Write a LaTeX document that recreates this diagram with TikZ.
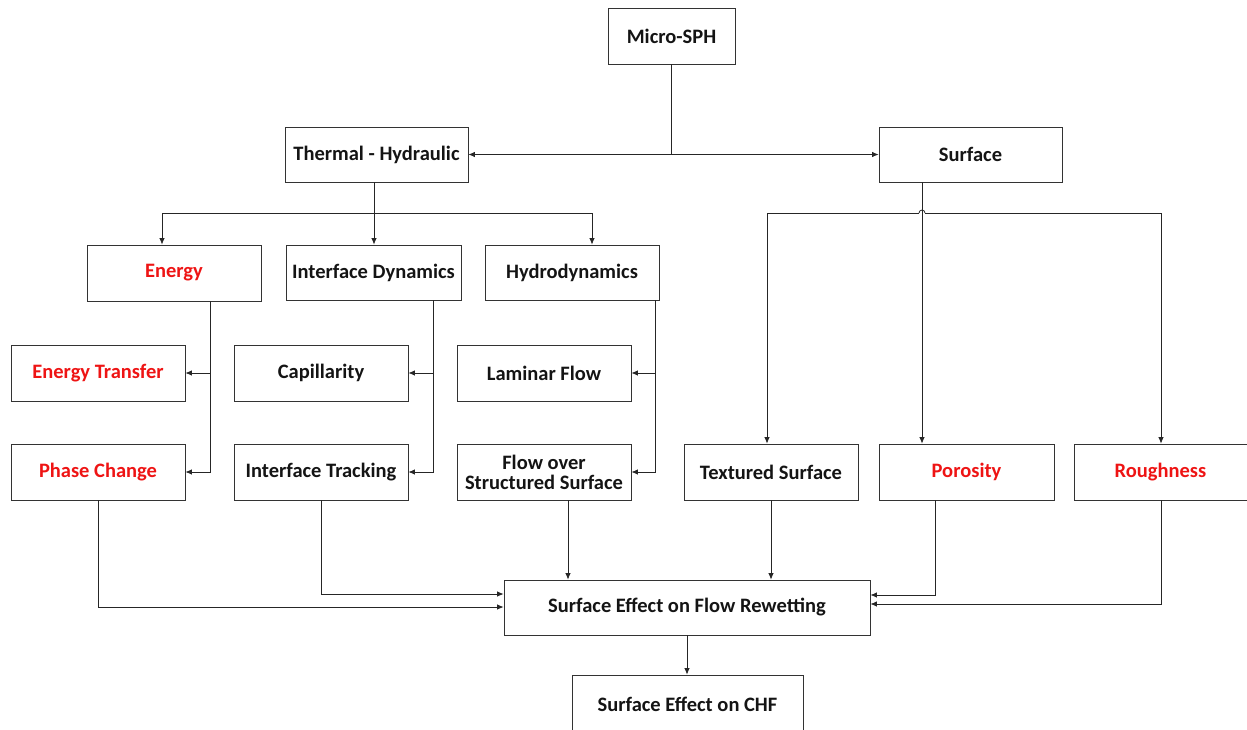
\documentclass[tikz,border=0pt]{standalone}
\usepackage{fontspec}
\setmainfont{Carlito}
\usetikzlibrary{arrows.meta}
\definecolor{txtred}{RGB}{238,20,20}
\definecolor{txtblk}{RGB}{20,20,20}
\begin{document}
\begin{tikzpicture}[x=1pt,y=-1pt,
  box/.style={draw=black!80,line width=0.8pt,rectangle,inner sep=0pt,align=center,
     font=\fontsize{20.5}{22}\selectfont\bfseries,text=txtblk},
  redt/.style={text=txtred},
  ln/.style={draw=black!85,line width=0.8pt},
  arr/.style={ln,-{Latex[length=6.5pt,width=5.5pt]}}]
\useasboundingbox (0,0) rectangle (1247,729);
\begin{scope}
\clip (0,0) rectangle (1247,729);
\node[box,minimum width=127pt,minimum height=56pt] (micro) at (671.5,36) {Micro-SPH};
\node[box,minimum width=183pt,minimum height=55pt] (th) at (376.5,154.5) {Thermal - Hydraulic};
\node[box,minimum width=183pt,minimum height=55pt] (surf) at (970.5,154.5) {Surface};
\node[box,redt,minimum width=174pt,minimum height=56pt] (en) at (174,273) {Energy};
\node[box,minimum width=175pt,minimum height=55pt] (id) at (373.5,272.5) {Interface Dynamics};
\node[box,minimum width=174pt,minimum height=55pt] (hy) at (572,272.5) {Hydrodynamics};
\node[box,redt,minimum width=174pt,minimum height=56pt] (et) at (98,373) {Energy Transfer};
\node[box,minimum width=174pt,minimum height=56pt] (cap) at (321,373) {Capillarity};
\node[box,minimum width=174pt,minimum height=56pt] (lam) at (544,373) {Laminar Flow};
\node[box,redt,minimum width=174pt,minimum height=56pt] (pc) at (98,472) {Phase Change};
\node[box,minimum width=174pt,minimum height=56pt] (it) at (321,472) {Interface Tracking};
\node[box,minimum width=174pt,minimum height=56pt] (fo) at (544,472) {Flow over\\[-2pt]Structured Surface};
\node[box,minimum width=174pt,minimum height=56pt] (tex) at (771,472) {Textured Surface};
\node[box,redt,minimum width=175pt,minimum height=56pt] (por) at (966.5,472) {Porosity};
\node[box,redt,minimum width=173pt,minimum height=56pt] (rou) at (1160.5,472) {Roughness};
\node[box,minimum width=366pt,minimum height=55pt] (sefr) at (687,607.5) {Surface Effect on Flow Rewetting};
\node[box,minimum width=231pt,minimum height=58pt] (chf) at (687.5,704) {Surface Effect on CHF};
\end{scope}
% coordinates for vertical runs
\coordinate (jt) at (374,213);
\coordinate (xen) at (162,0);
\coordinate (xhy) at (592,0);
\coordinate (vs) at (922,213);
\coordinate (xtex) at (767,0);
\coordinate (xrou) at (1161,0);
\coordinate (ven) at (210,0);
\coordinate (vid) at (433,0);
\coordinate (vhy) at (655,0);
\coordinate (xpor) at (935,0);
\coordinate (xfo) at (568,0);
% Micro-SPH
\draw[arr] (micro.south) |- (th.east);
\draw[arr] (micro.south) |- (surf.west);
% Thermal-Hydraulic
\draw[ln] (th.south -| jt) -- (jt);
\draw[arr] (id.north -| jt) ++(0,-32) -- (id.north -| jt);
\draw[arr] (jt) -| (en.north -| xen);
\draw[arr] (jt) -| (hy.north -| xhy);
% Surface
\draw[arr] (surf.south -| vs) -- (por.north -| vs);
\draw[arr] (vs) ++(-3,0) -| (tex.north -| xtex);
\draw[ln] (vs) ++(-3,0) arc (180:360:3);
\draw[arr] (vs) ++(3,0) -| (rou.north -| xrou);
% Energy
\draw[arr] (en.south -| ven) |- (pc.east);
\draw[arr] (et.east -| ven) -- (et.east);
% Interface Dynamics
\draw[arr] (id.south -| vid) |- (it.east);
\draw[arr] (cap.east -| vid) -- (cap.east);
% Hydrodynamics
\draw[arr] (hy.south -| vhy) |- (fo.east);
\draw[arr] (lam.east -| vhy) -- (lam.east);
% into SEFR
\draw[arr] (pc.south) |- ([yshift=0.5]sefr.west);
\draw[arr] (it.south) |- ([yshift=13.5]sefr.west);
\draw[arr] (fo.south -| xfo) -- (sefr.north -| xfo);
\draw[arr] (tex.south) -- (sefr.north -| tex.south);
\draw[arr] (por.south -| xpor) |- ([yshift=12.5]sefr.east);
\draw[arr] (rou.south -| xrou) |- ([yshift=3.5]sefr.east);
\draw[arr] (sefr.south) -- (sefr.south |- chf.north);
\end{tikzpicture}
\end{document}
